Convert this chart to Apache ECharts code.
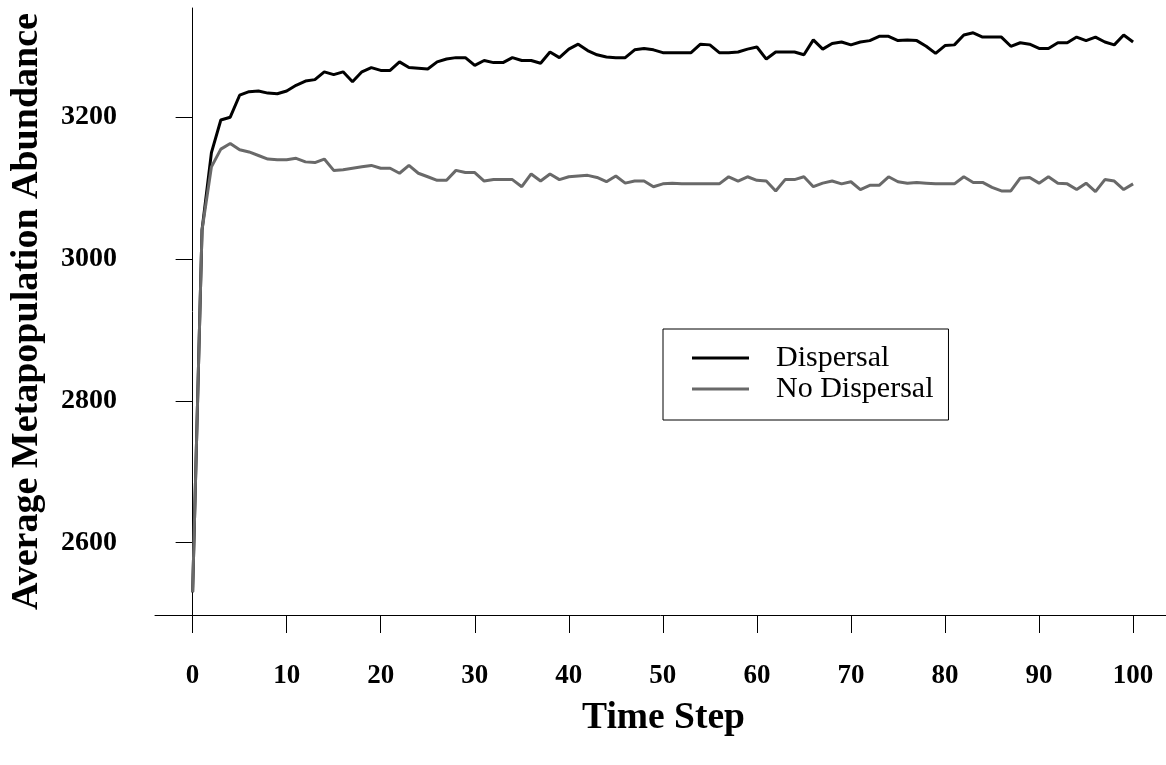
<!DOCTYPE html>
<html>
<head>
<meta charset="utf-8">
<script src="https://cdn.jsdelivr.net/npm/echarts@6/dist/echarts.min.js"></script>
<style>
  html, body { margin: 0; padding: 0; background: #fff; }
  #chart { width: 1166px; height: 765px; }
</style>
</head>
<body>
<div id="chart"></div>
<script>
// time steps 0..100
var timeSteps = [];
for (var i = 0; i <= 100; i++) timeSteps.push(i);

var dispersal = [
  2530, 3041, 3150, 3196, 3200, 3231, 3236, 3237, 3234, 3233,
  3237, 3245, 3251, 3253, 3264, 3260, 3264, 3250, 3264, 3270,
  3266, 3266, 3278, 3270, 3269, 3268, 3278, 3282, 3284, 3284,
  3273, 3280, 3277, 3277, 3284, 3280, 3280, 3276, 3292, 3284,
  3296, 3303, 3294, 3288, 3285, 3284, 3284, 3295, 3297, 3295,
  3291, 3291, 3291, 3291, 3303, 3302, 3291, 3291, 3292, 3296,
  3299, 3282, 3292, 3292, 3292, 3288, 3309, 3296, 3304, 3306,
  3302, 3306, 3308, 3314, 3314, 3308, 3309, 3308, 3300, 3290,
  3301, 3302, 3316, 3319, 3313, 3313, 3313, 3300, 3305, 3303,
  3297, 3297, 3305, 3305, 3313, 3308, 3313, 3306, 3302, 3316,
  3306
];

var noDispersal = [
  2530, 3041, 3130, 3155, 3163, 3154, 3151, 3146, 3141, 3140,
  3140, 3142, 3137, 3136, 3141, 3125, 3126, 3128, 3130, 3132,
  3128, 3128, 3121, 3132, 3121, 3116, 3111, 3111, 3125, 3122,
  3122, 3110, 3112, 3112, 3112, 3102, 3120, 3110, 3120, 3112,
  3116, 3117, 3118, 3115, 3109, 3117, 3107, 3110, 3110, 3102,
  3106, 3107, 3106, 3106, 3106, 3106, 3106, 3116, 3110, 3116,
  3111, 3110, 3096, 3112, 3112, 3116, 3102, 3107, 3110, 3106,
  3109, 3098, 3104, 3104, 3116, 3109, 3107, 3108, 3107, 3106,
  3106, 3106, 3116, 3108, 3108, 3101, 3096, 3096, 3114, 3115,
  3107, 3116, 3107, 3106, 3098, 3107, 3095, 3112, 3110, 3098,
  3106
];

var xTicks = [0, 10, 20, 30, 40, 50, 60, 70, 80, 90, 100];
var yTicks = [2600, 2800, 3000, 3200];

function pairs(values) {
    var out = [];
    for (var i = 0; i < values.length; i++) out.push([timeSteps[i], values[i]]);
    return out;
}

var serif = '"Liberation Serif", "Times New Roman", serif';

var chart = echarts.init(document.getElementById('chart'));
chart.setOption({
    animation: false,
    backgroundColor: '#fff',
    grid: {
        left: 155,
        right: 0,
        top: 8,
        bottom: 150,
        containLabel: false,
        outerBoundsMode: 'none'
    },
    legend: {
        orient: 'vertical',
        left: 663,
        top: 329,
        padding: [14, 15, 16, 29],
        itemGap: 1,
        itemWidth: 57,
        itemHeight: 3,
        icon: 'rect',
        borderColor: '#000',
        borderWidth: 1,
        textStyle: {
            fontFamily: serif,
            fontSize: 30,
            lineHeight: 30,
            color: '#000',
            padding: [0, 0, 0, 22]
        },
        data: ['Dispersal', 'No Dispersal']
    },
    xAxis: {
        type: 'value',
        min: -4,
        max: 103.5,
        name: 'Time Step',
        nameLocation: 'middle',
        nameGap: 84,
        nameTextStyle: {
            fontFamily: serif, fontSize: 37.5, fontWeight: 'bold', color: '#000',
            padding: [0, 0, 0, 6]
        },
        axisLine: { show: true, lineStyle: { color: '#000', width: 1 } },
        axisTick: { show: true, length: 18, customValues: xTicks, lineStyle: { color: '#000', width: 1 } },
        axisLabel: { customValues: xTicks, margin: 48, fontFamily: serif, fontSize: 27, fontWeight: 'bold', color: '#000' },
        splitLine: { show: false }
    },
    yAxis: {
        type: 'value',
        min: 2498,
        max: 3354,
        name: 'Average Metapopulation Abundance',
        nameLocation: 'middle',
        nameGap: 109,
        nameTextStyle: { fontFamily: serif, fontSize: 38, fontWeight: 'bold', color: '#000' },
        axisLine: { show: true, lineStyle: { color: '#000', width: 1 } },
        axisTick: { show: true, length: 17, customValues: yTicks, lineStyle: { color: '#000', width: 1 } },
        axisLabel: {
            customValues: yTicks, margin: 38, fontFamily: serif, fontSize: 28, fontWeight: 'bold', color: '#000',
            padding: [4, 0, 0, 0],
            formatter: function (v) { return String(v); }
        },
        splitLine: { show: false }
    },
    series: [
        {
            name: 'Dispersal',
            type: 'line',
            symbol: 'none',
            data: pairs(dispersal),
            lineStyle: { color: '#000', width: 3 },
            itemStyle: { color: '#000' }
        },
        {
            name: 'No Dispersal',
            type: 'line',
            symbol: 'none',
            data: pairs(noDispersal),
            lineStyle: { color: '#696969', width: 3 },
            itemStyle: { color: '#696969' }
        }
    ]
});
</script>
</body>
</html>
